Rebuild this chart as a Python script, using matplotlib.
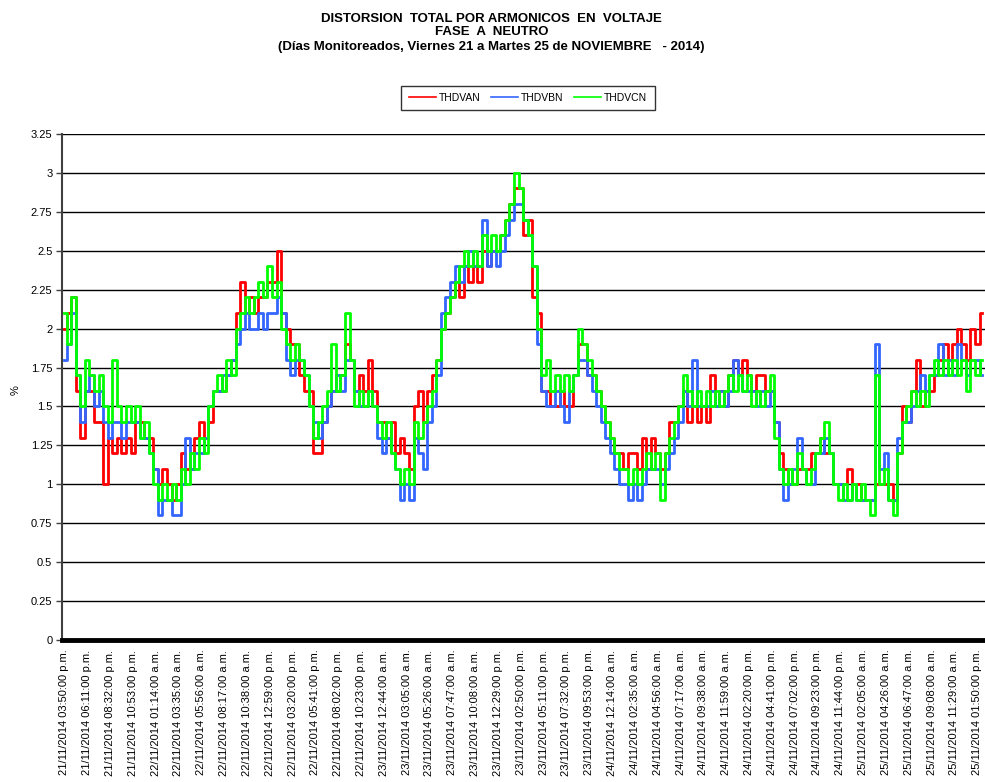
import matplotlib.pyplot as plt
import numpy as np

plt.rcParams['font.family'] = ['Liberation Sans', 'DejaVu Sans']

# etiquetas del eje de categorias (cada 2 h 21 min)
etiquetas = [
    '21/11/2014 03:50:00 p.m.', '21/11/2014 06:11:00 p.m.', '21/11/2014 08:32:00 p.m.',
    '21/11/2014 10:53:00 p.m.', '22/11/2014 01:14:00 a.m.', '22/11/2014 03:35:00 a.m.',
    '22/11/2014 05:56:00 a.m.', '22/11/2014 08:17:00 a.m.', '22/11/2014 10:38:00 a.m.',
    '22/11/2014 12:59:00 p.m.', '22/11/2014 03:20:00 p.m.', '22/11/2014 05:41:00 p.m.',
    '22/11/2014 08:02:00 p.m.', '22/11/2014 10:23:00 p.m.', '23/11/2014 12:44:00 a.m.',
    '23/11/2014 03:05:00 a.m.', '23/11/2014 05:26:00 a.m.', '23/11/2014 07:47:00 a.m.',
    '23/11/2014 10:08:00 a.m.', '23/11/2014 12:29:00 p.m.', '23/11/2014 02:50:00 p.m.',
    '23/11/2014 05:11:00 p.m.', '23/11/2014 07:32:00 p.m.', '23/11/2014 09:53:00 p.m.',
    '24/11/2014 12:14:00 a.m.', '24/11/2014 02:35:00 a.m.', '24/11/2014 04:56:00 a.m.',
    '24/11/2014 07:17:00 a.m.', '24/11/2014 09:38:00 a.m.', '24/11/2014 11:59:00 a.m.',
    '24/11/2014 02:20:00 p.m.', '24/11/2014 04:41:00 p.m.', '24/11/2014 07:02:00 p.m.',
    '24/11/2014 09:23:00 p.m.', '24/11/2014 11:44:00 p.m.', '25/11/2014 02:05:00 a.m.',
    '25/11/2014 04:26:00 a.m.', '25/11/2014 06:47:00 a.m.', '25/11/2014 09:08:00 a.m.',
    '25/11/2014 11:29:00 a.m.', '25/11/2014 01:50:00 p.m.',
]
paso_etiqueta = 5  # muestras entre etiquetas

# THD de tension (%) por fase
thdvan = [
    2.0, 2.1, 2.2, 1.6, 1.3, 1.6, 1.6, 1.4, 1.4, 1.0, 1.3, 1.2, 1.3, 1.2, 1.3, 1.2, 1.4, 1.4, 1.3, 1.3,
    1.1, 1.0, 1.1, 1.0, 0.9, 1.0, 1.2, 1.1, 1.1, 1.3, 1.4, 1.3, 1.4, 1.6, 1.6, 1.6, 1.7, 1.8, 2.1, 2.3,
    2.1, 2.2, 2.1, 2.2, 2.2, 2.3, 2.3, 2.5, 2.1, 2.0, 1.9, 1.9, 1.7, 1.6, 1.6, 1.2, 1.2, 1.4, 1.5, 1.6,
    1.6, 1.7, 1.9, 1.8, 1.6, 1.7, 1.6, 1.8, 1.6, 1.4, 1.4, 1.3, 1.4, 1.2, 1.3, 1.2, 1.1, 1.5, 1.6, 1.4,
    1.6, 1.7, 1.8, 2.0, 2.1, 2.2, 2.3, 2.2, 2.4, 2.3, 2.4, 2.3, 2.5, 2.4, 2.5, 2.5, 2.6, 2.7, 2.8, 2.9,
    2.9, 2.6, 2.7, 2.2, 2.1, 1.6, 1.6, 1.5, 1.5, 1.6, 1.5, 1.5, 1.7, 1.9, 1.9, 1.7, 1.7, 1.6, 1.5, 1.4,
    1.3, 1.2, 1.2, 1.1, 1.2, 1.2, 1.1, 1.3, 1.1, 1.3, 1.2, 1.1, 1.2, 1.4, 1.4, 1.5, 1.6, 1.4, 1.5, 1.4,
    1.5, 1.4, 1.7, 1.5, 1.6, 1.5, 1.7, 1.8, 1.7, 1.8, 1.7, 1.6, 1.7, 1.7, 1.6, 1.6, 1.4, 1.2, 1.1, 1.0,
    1.0, 1.1, 1.1, 1.1, 1.2, 1.2, 1.3, 1.2, 1.2, 1.0, 1.0, 1.0, 1.1, 1.0, 1.0, 0.9, 0.9, 0.9, 1.0, 1.0,
    1.0, 1.0, 0.9, 1.2, 1.5, 1.4, 1.6, 1.8, 1.5, 1.6, 1.6, 1.7, 1.8, 1.9, 1.8, 1.9, 2.0, 1.9, 1.8, 2.0,
    1.9, 2.1,
]
thdvbn = [
    1.8, 1.9, 2.1, 1.7, 1.4, 1.6, 1.7, 1.5, 1.6, 1.4, 1.3, 1.4, 1.4, 1.3, 1.4, 1.4, 1.4, 1.3, 1.3, 1.2,
    1.1, 0.8, 0.9, 0.9, 0.8, 0.8, 1.0, 1.3, 1.1, 1.2, 1.2, 1.3, 1.5, 1.6, 1.6, 1.7, 1.7, 1.8, 1.9, 2.0,
    2.1, 2.0, 2.0, 2.1, 2.0, 2.1, 2.1, 2.2, 2.1, 1.8, 1.7, 1.8, 1.8, 1.7, 1.5, 1.4, 1.3, 1.4, 1.5, 1.6,
    1.7, 1.6, 1.8, 1.8, 1.6, 1.5, 1.5, 1.6, 1.5, 1.3, 1.2, 1.3, 1.2, 1.1, 0.9, 1.0, 0.9, 1.3, 1.2, 1.1,
    1.4, 1.5, 1.7, 2.1, 2.2, 2.3, 2.4, 2.3, 2.4, 2.5, 2.4, 2.4, 2.7, 2.4, 2.5, 2.4, 2.5, 2.6, 2.7, 2.8,
    2.8, 2.7, 2.6, 2.4, 1.9, 1.6, 1.5, 1.5, 1.6, 1.5, 1.4, 1.6, 1.7, 1.8, 1.8, 1.7, 1.6, 1.5, 1.4, 1.3,
    1.2, 1.1, 1.0, 1.0, 0.9, 1.0, 0.9, 1.0, 1.1, 1.1, 1.1, 1.0, 1.1, 1.2, 1.3, 1.4, 1.6, 1.5, 1.8, 1.5,
    1.5, 1.5, 1.6, 1.5, 1.6, 1.5, 1.6, 1.8, 1.7, 1.6, 1.6, 1.6, 1.5, 1.6, 1.5, 1.6, 1.4, 1.1, 0.9, 1.0,
    1.1, 1.3, 1.1, 1.0, 1.0, 1.2, 1.2, 1.3, 1.2, 1.0, 1.0, 0.9, 0.9, 1.0, 0.9, 0.9, 0.9, 0.9, 1.9, 1.1,
    1.2, 0.9, 0.9, 1.3, 1.4, 1.4, 1.5, 1.6, 1.7, 1.6, 1.7, 1.7, 1.9, 1.7, 1.8, 1.7, 1.9, 1.8, 1.7, 1.8,
    1.8, 1.7,
]
thdvcn = [
    2.1, 1.9, 2.2, 1.7, 1.5, 1.8, 1.7, 1.6, 1.7, 1.5, 1.4, 1.8, 1.5, 1.4, 1.5, 1.4, 1.5, 1.3, 1.4, 1.2,
    1.0, 0.9, 1.0, 0.9, 1.0, 0.9, 1.1, 1.0, 1.2, 1.1, 1.3, 1.2, 1.5, 1.6, 1.7, 1.6, 1.8, 1.7, 2.0, 2.1,
    2.2, 2.1, 2.2, 2.3, 2.2, 2.4, 2.2, 2.3, 2.0, 1.9, 1.8, 1.9, 1.8, 1.7, 1.5, 1.3, 1.4, 1.5, 1.6, 1.9,
    1.6, 1.7, 2.1, 1.8, 1.5, 1.6, 1.5, 1.6, 1.5, 1.4, 1.3, 1.4, 1.2, 1.1, 1.0, 1.1, 1.0, 1.4, 1.3, 1.4,
    1.5, 1.6, 1.8, 2.0, 2.1, 2.2, 2.3, 2.4, 2.5, 2.4, 2.5, 2.4, 2.6, 2.5, 2.6, 2.5, 2.6, 2.7, 2.8, 3.0,
    2.9, 2.7, 2.6, 2.4, 2.0, 1.7, 1.8, 1.6, 1.7, 1.6, 1.7, 1.6, 1.7, 2.0, 1.9, 1.8, 1.7, 1.6, 1.5, 1.4,
    1.3, 1.2, 1.1, 1.1, 1.0, 1.1, 1.0, 1.1, 1.2, 1.1, 1.2, 0.9, 1.2, 1.3, 1.4, 1.5, 1.7, 1.6, 1.5, 1.6,
    1.5, 1.6, 1.5, 1.6, 1.5, 1.6, 1.7, 1.6, 1.7, 1.6, 1.7, 1.5, 1.6, 1.5, 1.6, 1.7, 1.3, 1.1, 1.0, 1.1,
    1.0, 1.2, 1.1, 1.0, 1.1, 1.2, 1.3, 1.4, 1.2, 1.0, 0.9, 1.0, 0.9, 1.0, 0.9, 1.0, 0.9, 0.8, 1.7, 1.0,
    1.1, 0.9, 0.8, 1.2, 1.4, 1.5, 1.6, 1.5, 1.6, 1.5, 1.7, 1.8, 1.7, 1.8, 1.7, 1.8, 1.7, 1.8, 1.6, 1.8,
    1.7, 1.8,
]

x = np.arange(len(thdvcn))

fig = plt.figure(figsize=(9.85, 7.82), dpi=100)
ax = fig.add_axes([0.063, 0.1816, 0.937, 0.6471])

ax.plot(x, thdvan, color='#FF0000', lw=2.0, drawstyle='steps-mid', label='THDVAN')
ax.plot(x, thdvbn, color='#3366FF', lw=2.0, drawstyle='steps-mid', label='THDVBN')
ax.plot(x, thdvcn, color='#00FF00', lw=2.0, drawstyle='steps-mid', label='THDVCN')

ax.set_ylim(0, 3.25)
yt = np.arange(0, 3.26, 0.25)
ax.set_yticks(yt)
ax.set_yticklabels(['%g' % v for v in yt], fontsize=8)
ax.yaxis.grid(True, color='black', lw=1)
ax.set_axisbelow(True)
ax.tick_params(axis='y', length=4, width=1, color='#404040', pad=3)

ax.set_xlim(-0.5, len(thdvcn) - 0.3)
ax.set_xticks(np.arange(len(etiquetas)) * paso_etiqueta)
ax.set_xticklabels(etiquetas, rotation=90, fontsize=8, va='top')
ax.tick_params(axis='x', length=0, pad=7)

for lado in ['top', 'right']:
    ax.spines[lado].set_visible(False)
ax.spines['left'].set_color('#404040')
ax.spines['left'].set_linewidth(1.5)
ax.spines['bottom'].set_color('black')
ax.spines['bottom'].set_linewidth(3.5)

fig.text(0.016, 0.501, '%', rotation=90, ha='center', va='center', fontsize=8)

fig.text(0.499, 0.9755, 'DISTORSION  TOTAL POR ARMONICOS  EN  VOLTAJE',
         ha='center', va='center', fontsize=9.5, fontweight='bold')
fig.text(0.499, 0.9585, 'FASE  A  NEUTRO', ha='center', va='center', fontsize=9.5, fontweight='bold')
fig.text(0.499, 0.9395, '(Días Monitoreados, Viernes 21 a Martes 25 de NOVIEMBRE   - 2014)',
         ha='center', va='center', fontsize=9.5, fontweight='bold')

leg = fig.legend(loc='center', bbox_to_anchor=(0.536, 0.8747), ncol=3, fontsize=7.5,
                 frameon=True, fancybox=False, edgecolor='black', handlelength=2.6,
                 columnspacing=1.0, handletextpad=0.3, borderpad=0.7)
leg.get_frame().set_linewidth(1)
for linea in leg.get_lines():
    linea.set_linewidth(1.2)

fig.savefig('out.png', dpi=100)
